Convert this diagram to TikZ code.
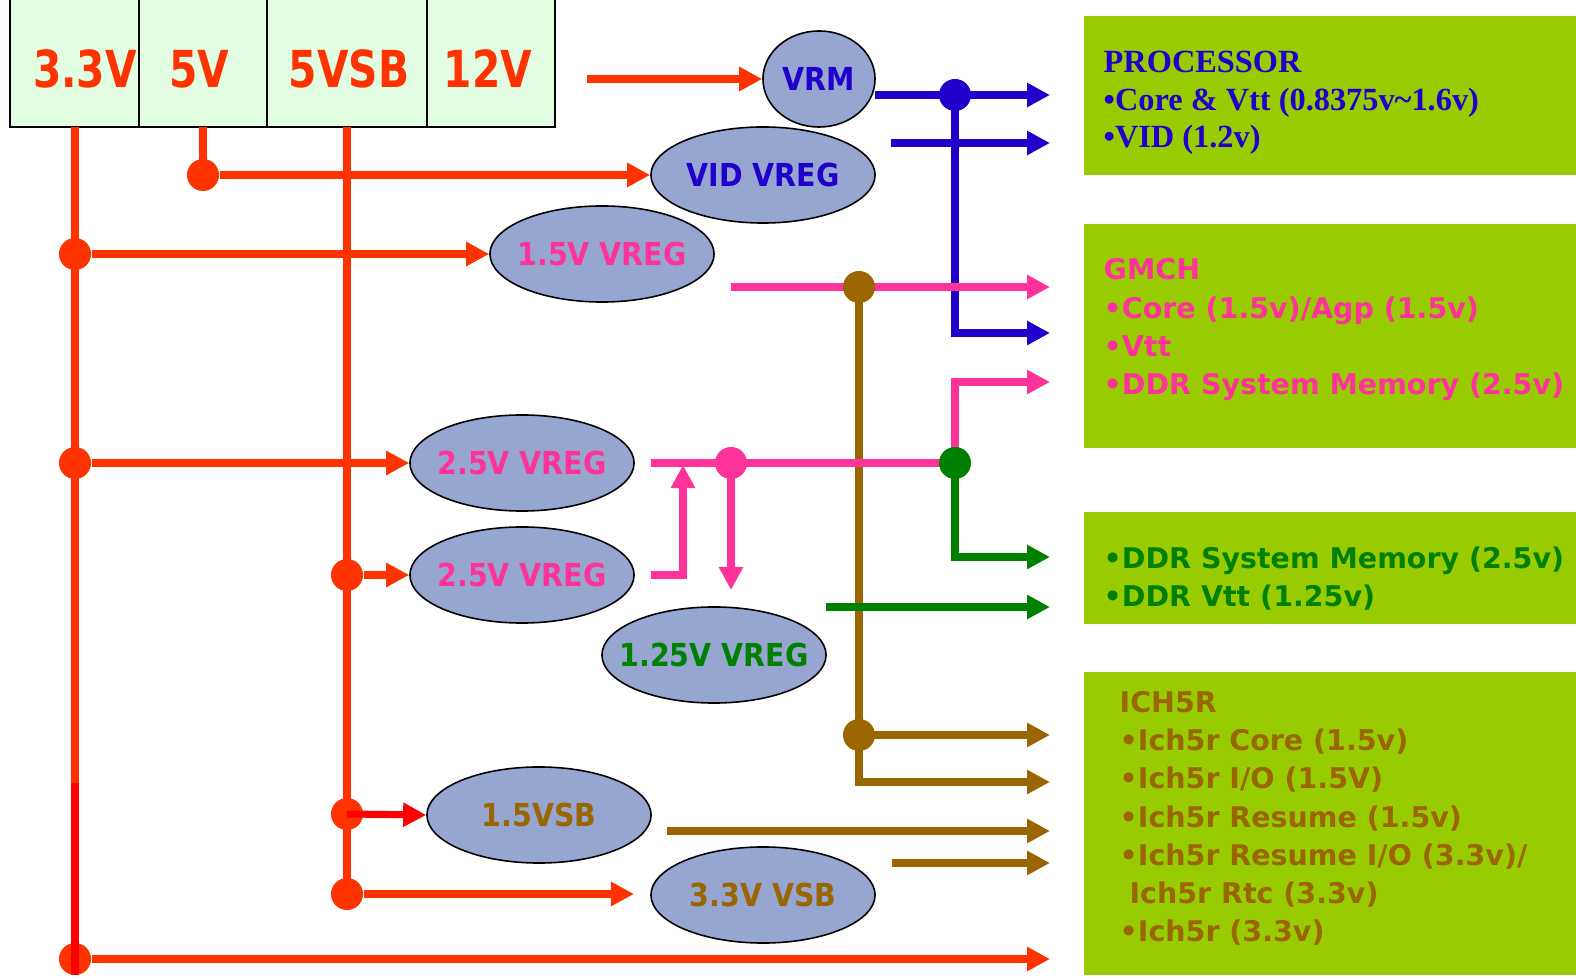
\documentclass[tikz,border=0pt]{standalone}
\usepackage{fontspec}
\setmainfont{DejaVu Sans}
\newfontfamily\railfont{DejaVu Sans}[FakeStretch=0.8]
\newfontfamily\vregfont{DejaVu Sans}[FakeStretch=0.9]
\newfontfamily\loadfont{DejaVu Sans}
\newfontfamily\cpufont{Liberation Serif}
\usetikzlibrary{arrows.meta,shapes.geometric}

\definecolor{railred}{HTML}{FF3300}
\definecolor{hotred}{HTML}{FF0000}
\definecolor{cpublue}{HTML}{2200CC}
\definecolor{gmchpink}{HTML}{FF3399}
\definecolor{ddrgreen}{HTML}{008000}
\definecolor{ichbrown}{HTML}{996600}
\definecolor{sinkgreen}{HTML}{99CC00}
\definecolor{vregfill}{HTML}{96A6D1}
\definecolor{psufill}{HTML}{E3FDE3}

\newcommand{\vlbl}[1]{\makebox[0pt]{#1}}

\begin{document}
\begin{tikzpicture}[
    x=0.01cm, y=-0.01cm,
    wire/.style={line width=2pt},
    tip/.style={-{Triangle[length=0.23cm,width=0.23cm]}},
    jdot/.style={circle, fill=#1, minimum size=0.32cm, inner sep=0pt},
    vreg/.style={ellipse, draw=black, line width=0.45pt, fill=vregfill, minimum width=2.24cm, minimum height=0.96cm, inner sep=0pt, font=\vregfont\bfseries\fontsize{9}{10}\selectfont},
    raillbl/.style={anchor=base, text=railred, font=\railfont\bfseries\fontsize{14.5}{16}\selectfont},
    sinkbox/.style={fill=sinkgreen, anchor=north west, inner sep=0pt},
    sinktext/.style={anchor=base west, align=left, inner sep=0pt, font=\loadfont\bfseries\fontsize{8.1}{10.9}\selectfont}
]
\useasboundingbox (0,0) rectangle (1576,980);

% supply rails
\fill[psufill] (10,-20) rectangle (555,127);
\draw[black, line width=0.7pt] (10,-20) -- (10,127) -- (555,127) -- (555,-20);
\draw[black, line width=0.7pt] (139,-20) -- (139,127) (267,-20) -- (267,127) (427,-20) -- (427,127);
\node[raillbl] (r33) at (85,88) {3.3V};
\node[raillbl] (r5) at (199,88) {5V};
\node[raillbl] (r5sb) at (349,88) {5VSB};
\node[raillbl] (r12) at (488,88) {12V};

% loads (anchored at the last line's baseline)
\node[sinkbox, minimum width=4.93cm, minimum height=1.59cm] (cpubox) at (1083,15) {};
\node[sinkbox, minimum width=4.93cm, minimum height=2.24cm] (gmchbox) at (1083,223) {};
\node[sinkbox, minimum width=4.93cm, minimum height=1.12cm] (ddrbox) at (1083,511) {};
\node[sinkbox, minimum width=4.93cm, minimum height=3.03cm] (ichbox) at (1083,671) {};

\node[sinktext, text=cpublue, font=\cpufont\bfseries\fontsize{9.2}{10.8}\selectfont] (cputext) at (1103,148)
  {PROCESSOR\\•Core \& Vtt (0.8375v\textasciitilde1.6v)\\•VID (1.2v)};
\node[sinktext, text=gmchpink] (gmchtext) at (1103,395)
  {GMCH\\•Core (1.5v)/Agp (1.5v)\\•Vtt\\•DDR System Memory (2.5v)};
\node[sinktext, text=ddrgreen] (ddrtext) at (1103,607)
  {•DDR System Memory (2.5v)\\•DDR Vtt (1.25v)};
\node[sinktext, text=ichbrown] (ichtext) at (1119,942)
  {ICH5R\\•Ich5r Core (1.5v)\\•Ich5r I/O (1.5V)\\•Ich5r Resume (1.5v)\\•Ich5r Resume I/O (3.3v)/\\\hspace*{2.8pt}Ich5r Rtc (3.3v)\\•Ich5r (3.3v)};

% regulators
\node[vreg, minimum width=1.12cm, text=cpublue] (vrm) at (819,79) {\vlbl{VRM}};
\node[vreg, text=cpublue] (vidvreg) at (763,175) {\vlbl{VID VREG}};
\node[vreg, text=gmchpink] (vreg15) at (602,254) {\vlbl{1.5V VREG}};
\node[vreg, text=gmchpink] (vreg25a) at (522,463) {\vlbl{2.5V VREG}};
\node[vreg, text=gmchpink] (vreg25b) at (522,575) {\vlbl{2.5V VREG}};
\node[vreg, text=ddrgreen] (vreg125) at (714,655) {\vlbl{1.25V VREG}};
\node[vreg, text=ichbrown] (vsb15) at (539,815) {\vlbl{1.5VSB}};
\node[vreg, text=ichbrown] (vsb33) at (763,895) {\vlbl{3.3V VSB}};

\coordinate (p33) at (75,127);
\coordinate (p33end) at (75,959);
\coordinate (hot33a) at (75,783);
\coordinate (hot33b) at (75,975);
\coordinate (p5) at (203,127);
\coordinate (p5sb) at (347,127);
\coordinate (p5sbend) at (347,894);
\coordinate (o12) at (587,79);
\coordinate (vrmout) at (875,95);
\coordinate (vidout) at (891,143);
\coordinate (o15) at (731,287);
\coordinate (o25a) at (651,463);
\coordinate (o25b) at (651,575);
\coordinate (j25) at (683,465);
\coordinate (t125) at (731,590);
\coordinate (o125) at (826,607);
\coordinate (osb15) at (667,831);
\coordinate (osb33) at (892,863);
\coordinate (i33) at (634,894);
\coordinate (tcore) at (1050,95);
\coordinate (tvid) at (1050,143);
\coordinate (tgcore) at (1050,287);
\coordinate (tvtt) at (1050,333);
\coordinate (tgddr) at (1050,382);
\coordinate (tddr) at (1050,557);
\coordinate (tddrvtt) at (1050,607);
\coordinate (tichcore) at (1050,735);
\coordinate (tichio) at (1050,782);
\coordinate (tres15) at (1050,831);
\coordinate (tres33) at (1050,863);
\coordinate (t33) at (1050,959);

\node[jdot=railred] (d5) at (203,175) {};
\node[jdot=railred] (d33a) at (75,254) {};
\node[jdot=railred] (d33b) at (75,463) {};
\node[jdot=railred] (d33c) at (75,959) {};
\node[jdot=railred] (d5sa) at (347,575) {};
\node[jdot=railred] (d5sb) at (347,814) {};
\node[jdot=railred] (d5sc) at (347,894) {};
\coordinate (dvrm) at (955,95);
\coordinate (dgm) at (859,287);
\coordinate (dich) at (859,735);
\coordinate (d25) at (731,463);
\coordinate (dddr) at (955,463);

% 3.3V / 5V / 5VSB / 12V feeds
\draw[wire, railred] (p33) -- (p33end);
\draw[wire, hotred] (hot33a) -- (hot33b);
\draw[wire, railred] (p5) -- (d5.center);
\draw[wire, railred] (p5sb) -- (p5sbend);
\draw[wire, railred, tip] (o12) -- (vrm.west);
\draw[wire, railred, tip] (d5) -- (vidvreg.west);
\draw[wire, railred, tip] (d33a) -- (vreg15.west);
\draw[wire, railred, tip] (d33b) -- (vreg25a.west);
\draw[wire, railred, tip] (d33c) -- (t33);
\draw[wire, railred, tip] (d5sa) -- (vreg25b.west);
\draw[wire, hotred, tip] (d5sb.center) -- (vsb15.west);
\draw[wire, railred, tip] (d5sc) -- (i33);

% processor
\draw[wire, cpublue, tip] (vrmout) -- (tcore);
\draw[wire, cpublue, tip] (dvrm) |- (tvtt);
\draw[wire, cpublue, tip] (vidout) -- (tvid);

% ich5r
\draw[wire, ichbrown, tip] (dgm) |- (tichio);
\draw[wire, ichbrown, tip] (dich) -- (tichcore);
\draw[wire, ichbrown, tip] (osb15) -- (tres15);
\draw[wire, ichbrown, tip] (osb33) -- (tres33);

% gmch / ddr
\draw[wire, gmchpink, tip] (o15) -- (tgcore);
\draw[wire, gmchpink] (o25a) -- (dddr);
\draw[wire, gmchpink, tip] (dddr) |- (tgddr);
\draw[wire, gmchpink, tip] (o25b) -| (j25);
\draw[wire, gmchpink, tip] (d25) -- (t125);
\draw[wire, ddrgreen, tip] (dddr) |- (tddr);
\draw[wire, ddrgreen, tip] (o125) -- (tddrvtt);

\node[jdot=cpublue] (jvrm) at (dvrm) {};
\node[jdot=ichbrown] (jgm) at (dgm) {};
\node[jdot=ichbrown] (jich) at (dich) {};
\node[jdot=gmchpink] (j25a) at (d25) {};
\node[jdot=ddrgreen] (jddr) at (dddr) {};
\end{tikzpicture}
\end{document}
